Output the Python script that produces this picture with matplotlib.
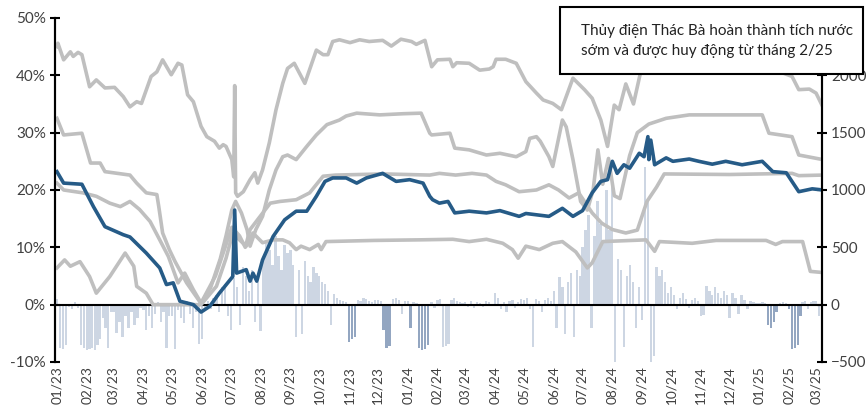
import numpy as np
import pandas as pd
import matplotlib
matplotlib.use("Agg")
import matplotlib.pyplot as plt
import matplotlib.dates as mdates
from matplotlib.patches import Rectangle

plt.rcParams['font.family'] = ['Lato', 'Noto Sans', 'DejaVu Sans']

START = pd.Timestamp('2023-01-01')

# Blue line: reservoir level (%), x = days since 2023-01-01
blue_day = [0, 7, 26, 38, 50, 69, 76, 93, 107, 114, 121, 128, 142, 150, 159, 169, 183, 185, 187,
            197, 201, 204, 208, 214, 225, 237, 249, 260, 270, 279, 287, 301, 312, 322, 339, 353,
            367, 381, 388, 391, 398, 407, 414, 429, 447, 461, 481, 488, 512, 526, 537, 547, 557,
            566, 573, 578, 583, 590, 596, 606, 611, 615, 616, 618, 622, 634, 641, 658, 668, 682,
            696, 713, 734, 745, 759, 772, 786, 797]
blue_val = [23.2, 21.2, 21.0, 17.1, 13.6, 12.2, 11.8, 9.0, 6.4, 3.5, 3.8, 0.6, 0.0, -1.3, -0.3,
            2.0, 4.9, 16.5, 5.5, 6.1, 4.1, 5.5, 4.1, 7.8, 11.9, 14.8, 16.3, 16.3, 18.9, 21.5, 22.1,
            22.1, 21.2, 22.1, 22.9, 21.5, 21.8, 21.2, 18.9, 18.3, 17.7, 18.0, 16.0, 16.3, 16.0, 16.4,
            15.4, 15.9, 15.4, 16.8, 15.4, 16.4, 19.5, 21.5, 21.8, 25.0, 22.9, 24.4, 23.8, 26.4, 25.8,
            29.3, 25.3, 28.7, 24.4, 25.6, 25.0, 25.4, 25.0, 24.5, 25.0, 24.4, 25.0, 23.2, 23.0, 19.7,
            20.2, 20.0]

# Gray reference lines (%)
g1_day = [0, 1, 7, 14, 17, 22, 26, 34, 41, 50, 60, 69, 76, 83, 88, 98, 104, 110, 119, 126, 130,
          136, 142, 150, 156, 164, 169, 173, 176, 182, 184, 185, 186, 188, 194, 201, 206, 209, 214,
          221, 228, 235, 240, 247, 258, 270, 277, 282, 287, 294, 305, 315, 325, 339, 348, 358, 369,
          374, 383, 390, 396, 409, 412, 416, 429, 440, 450, 454, 457, 467, 478, 488, 499, 506, 516,
          525, 537, 549, 557, 566, 573, 580, 585, 592, 600, 608, 616, 700, 765, 772, 783, 790, 797]
g1_val = [45.0, 45.6, 42.7, 44.1, 43.3, 44.0, 43.6, 38.0, 39.2, 37.8, 37.9, 36.3, 34.5, 35.4, 35.1,
          39.8, 40.6, 42.7, 40.1, 42.1, 41.8, 36.6, 35.4, 31.1, 29.3, 28.5, 27.3, 27.9, 27.6, 25.3,
          22.3, 38.2, 19.5, 18.9, 19.7, 21.8, 23.0, 21.2, 23.5, 28.2, 34.0, 38.6, 41.2, 42.1, 38.6,
          44.4, 43.6, 43.6, 45.9, 46.2, 45.7, 46.2, 45.9, 46.1, 45.1, 46.3, 45.9, 45.4, 46.1, 41.5,
          42.7, 42.8, 41.5, 42.2, 42.1, 40.9, 41.1, 41.5, 42.8, 42.8, 42.1, 38.9, 36.9, 35.7, 35.1,
          34.0, 39.5, 37.5, 36.0, 32.2, 27.6, 34.8, 34.0, 38.5, 35.0, 41.0, 43.5, 44.0, 39.8, 37.5,
          37.6, 36.9, 34.5]

g2_day = [0, 7, 26, 35, 45, 50, 76, 83, 93, 104, 106, 110, 117, 123, 135, 145, 150, 160, 170, 176,
          182, 186, 192, 198, 201, 207, 214, 221, 228, 235, 240, 249, 260, 270, 281, 294, 301, 312,
          336, 360, 379, 388, 390, 409, 414, 429, 447, 461, 478, 488, 492, 499, 503, 512, 516, 526,
          530, 537, 545, 552, 558, 563, 568, 574, 580, 586, 596, 604, 616, 634, 658, 696, 734, 741,
          765, 772, 797]
g2_val = [32.5, 29.6, 29.9, 24.7, 24.7, 23.2, 22.6, 21.2, 19.5, 19.2, 17.1, 12.5, 9.6, 7.5, 3.8,
          1.4, 0.2, 3.0, 8.0, 12.0, 16.5, 18.0, 16.0, 13.0, 10.2, 13.1, 15.4, 20.0, 23.5, 25.8, 26.1,
          25.3, 27.6, 29.6, 31.4, 32.2, 32.9, 33.4, 33.1, 33.3, 33.4, 29.9, 29.6, 29.9, 27.3, 27.0,
          26.1, 26.4, 25.8, 26.7, 29.0, 29.3, 28.5, 25.8, 24.1, 32.2, 31.0, 25.3, 18.0, 16.5, 20.0,
          27.0, 21.0, 25.5, 19.0, 18.5, 26.0, 30.0, 31.5, 32.5, 33.1, 33.1, 33.1, 29.9, 29.3, 26.1,
          25.3]

g3_day = [0, 7, 27, 41, 55, 66, 76, 86, 97, 107, 116, 126, 133, 142, 150, 165, 175, 182, 190, 196,
          201, 222, 232, 249, 263, 277, 290, 340, 388, 398, 415, 432, 447, 457, 467, 481, 499, 512,
          522, 533, 543, 557, 567, 578, 592, 604, 614, 624, 632, 700, 765, 772, 797]
g3_val = [21.2, 20.0, 19.5, 18.9, 17.7, 17.1, 18.0, 16.6, 14.5, 11.3, 8.4, 3.8, 5.5, 2.6, 0.3, 5.0,
          10.0, 13.5, 12.0, 10.0, 13.1, 17.7, 18.0, 18.3, 19.5, 22.4, 22.6, 22.8, 22.6, 22.9, 22.6,
          22.9, 22.6, 21.5, 20.9, 19.7, 20.0, 20.9, 20.0, 18.6, 19.5, 16.0, 14.2, 13.1, 12.5, 13.0,
          18.0, 20.5, 22.8, 22.7, 22.9, 22.5, 22.6]

g4_day = [0, 8, 14, 24, 34, 41, 55, 71, 80, 83, 93, 100, 114, 150, 166, 176, 183, 190, 197, 204,
          214, 225, 235, 242, 249, 254, 263, 272, 275, 280, 330, 377, 412, 429, 447, 464, 474, 480,
          488, 502, 516, 526, 540, 552, 557, 568, 613, 622, 627, 661, 686, 738, 748, 755, 776, 784,
          797]
g4_val = [6.4, 7.8, 6.7, 7.5, 4.9, 2.0, 4.9, 9.0, 6.7, 3.2, 2.0, 0.0, 0.0, 0.0, 3.2, 8.1, 12.5,
          11.3, 10.2, 12.5, 10.8, 11.3, 11.3, 10.8, 9.6, 10.2, 9.6, 10.5, 9.6, 11.0, 11.2, 11.3, 11.4,
          11.0, 11.4, 10.7, 9.6, 8.1, 10.2, 9.6, 10.7, 11.0, 9.2, 6.4, 7.3, 11.0, 11.3, 9.3, 11.0,
          10.7, 11.2, 11.2, 10.5, 11.0, 11.0, 5.8, 5.6]

# Net flow bars (right axis), one list per month from 01/23 to 03/25
flow_months = pd.date_range('2023-01-01', '2025-03-01', freq='MS')
flow_vals = [
    [50, -380, -390, -350, -20, -40, 20, -30, -350, -380],
    [-400, -390, -380, -400, -350, -300, -120, -200, -380, -60],
    [-60, -250, -150, -280, -100, -200, -60, -180, -120, -30],
    [-50, -220, -100, -200, -80, 20, -150, -60, -380, -100],
    [-100, -390, -50, -120, -160, 30, -80, -200, -60, -340],
    [-300, -50, 30, -40, 60, 80, -60, 150, 180, -100],
    [-220, 230, 150, -180, 330, 250, 120, 300, -150, 200],
    [-230, 400, 550, 480, 350, 600, 420, 300, 520, 450],
    [480, 350, -280, 300, -260, 380, 250, 200, 330, 280],
    [250, 200, 180, 120, -180, 90, 60, 40, 30, 20],
    [0, 0, 0, 40, 30, 60, 50, 30, 20, 40],
    [40, 30, 0, 0, 0, 50, 60, 40, -80, 30],
    [30, 0, 20, 10, 0, 0, 0, 0, 20, -30],
    [40, 50, -370, -360, -340, 40, 60, 30, 20, 10],
    [20, -20, 30, -30, 20, 10, -20, 30, 20, -10],
    [100, 60, -40, 20, -60, 30, 40, -30, 20, 50],
    [40, 60, -40, -370, 50, 30, -60, 40, 60, 30],
    [120, -200, 240, 150, -260, 200, 280, -280, 300, 250],
    [500, 650, 780, -200, 600, 900, 700, 550, 1000, 650],
    [1050, -520, 400, 300, -370, 250, 350, 200, -200, 150],
    [-130, 1200, 900, -520, -450, 330, 250, 300, 200, 100],
    [150, 80, -40, 60, 100, 50, -30, 40, 60, 30],
    [-100, -90, 160, 120, 80, 150, 100, 60, 120, 80],
    [-120, 100, 60, -80, 80, 40, -40, 30, 20, 10],
    [10, 20, 10, 0, 0, 0, 0, 10, 20, 10],
    [0, 0, 0, 0, 0, 20, 30, -40, 20, 30],
    [30, -100],
]
# darker bars (releases)
dark_dates = ['2023-11-01', '2023-11-04', '2023-11-07', '2023-12-07', '2023-12-10', '2023-12-13',
              '2024-01-04', '2024-01-13', '2024-01-16', '2024-01-19', '2024-01-22',
              '2025-01-10', '2025-01-13', '2025-01-16', '2025-01-19',
              '2025-02-01', '2025-02-04', '2025-02-07', '2025-02-10', '2025-02-13']
dark_vals = [-330, -300, -280, -220, -380, -360, -200, -380, -400, -390, -350,
             -180, -200, -150, -60, -40, -390, -380, -350, -100]

text_note = "Thủy điện Thác Bà hoàn thành tích nước\nsớm và được huy động từ tháng 2/25"


def to_dates(days):
    return START + pd.to_timedelta(days, unit='D')


fig = plt.figure(figsize=(8.66, 4.09), dpi=100)
ax = fig.add_axes([0.0635, 0.115, 0.8855, 0.841])
ax2 = ax.twinx()
ax.set_zorder(2)
ax.patch.set_visible(False)

# bars
bx, bv = [], []
for m, vals in zip(flow_months, flow_vals):
    n_days = m.days_in_month
    for k, v in enumerate(vals):
        bx.append(m + pd.Timedelta(days=k * n_days / 10))
        bv.append(v)
ax2.bar(bx, bv, width=2.4, color='#cdd6e3', linewidth=0)
ax2.bar(pd.to_datetime(dark_dates), dark_vals, width=2.6, color='#93a6c1', linewidth=0)

gray = '#bfbfbf'
for d, v in [(g1_day, g1_val), (g2_day, g2_val), (g3_day, g3_val), (g4_day, g4_val)]:
    ax.plot(to_dates(d), v, color=gray, lw=2.6, solid_joinstyle='round')
ax.plot(to_dates(blue_day), blue_val, color='#265b87', lw=2.6, solid_joinstyle='round')
ax.axhline(0, color='black', lw=1.5, zorder=1)

xmin, xmax = pd.Timestamp('2022-12-30'), pd.Timestamp('2025-03-07')
ax.set_xlim(xmin, xmax)
ax.set_ylim(-10, 50)
ax2.set_ylim(-500, 2500)
ax.set_yticks(range(-10, 51, 10))
ax.set_yticklabels([f"{t}%" for t in range(-10, 51, 10)])
ax2.set_yticks(range(-500, 2001, 500))

ax.xaxis.set_major_locator(mdates.MonthLocator())
ax.xaxis.set_major_formatter(mdates.DateFormatter('%m/%y'))
ax.tick_params(axis='x', length=0, rotation=90, labelsize=9.8, labelcolor='#404040', pad=3)
ax.tick_params(axis='y', direction='inout', length=7, width=1.5, labelsize=11,
               labelcolor='#404040', pad=3)
ax2.tick_params(axis='y', direction='inout', length=7, width=1.5, labelsize=11,
                labelcolor='#404040', pad=3)
for a in (ax, ax2):
    a.spines['top'].set_visible(False)
    a.spines['bottom'].set_visible(False)
    a.spines['left'].set_linewidth(1.5)
    a.spines['right'].set_linewidth(1.5)
ax2.tick_params(axis='x', length=0)

# annotation box
box = Rectangle((560 / 866, 1 - 74 / 409), 303 / 866, 67 / 409, transform=fig.transFigure,
                facecolor='white', edgecolor='black', lw=1.5, zorder=5)
fig.add_artist(box)
fig.text(581 / 866, 1 - 41 / 409, text_note, fontsize=11, color='#222222',
         linespacing=1.6, va='center', ha='left', zorder=6)

plt.savefig('out.png', dpi=100)
